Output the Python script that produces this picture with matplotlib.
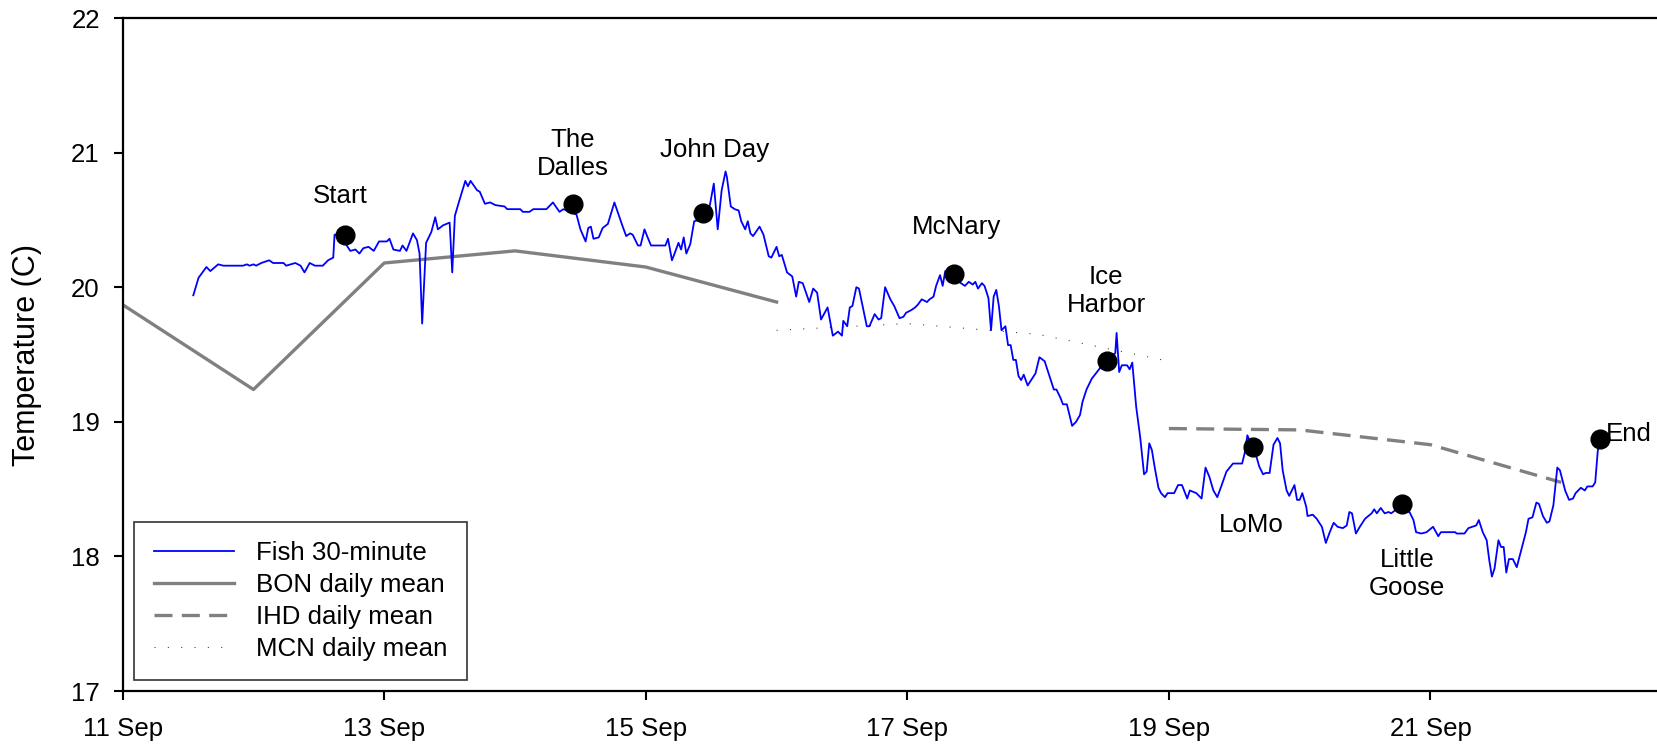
import matplotlib
matplotlib.use("Agg")
import matplotlib.pyplot as plt

plt.rcParams['font.family'] = ['Liberation Sans', 'DejaVu Sans']

# fish temperature, 30-minute record (day of September, deg C)
fish_day = [
    11.54, 11.58, 11.64, 11.67, 11.73, 11.77, 11.92, 11.95, 11.97, 12.00,
    12.02, 12.06, 12.12, 12.15, 12.23, 12.25, 12.32, 12.36, 12.39, 12.43,
    12.47, 12.53, 12.57, 12.61, 12.62, 12.66, 12.74, 12.78, 12.81, 12.84,
    12.88, 12.92, 12.96, 13.02, 13.04, 13.07, 13.12, 13.14, 13.17, 13.22,
    13.25, 13.27, 13.29, 13.32, 13.36, 13.39, 13.41, 13.45, 13.50, 13.52,
    13.54, 13.57, 13.62, 13.64, 13.66, 13.71, 13.73, 13.77, 13.81, 13.85,
    13.92, 13.94, 14.04, 14.06, 14.11, 14.14, 14.24, 14.29, 14.34, 14.37,
    14.47, 14.50, 14.54, 14.56, 14.58, 14.60, 14.64, 14.67, 14.71, 14.76,
    14.82, 14.85, 14.88, 14.90, 14.94, 14.96, 14.99, 15.01, 15.04, 15.15,
    15.17, 15.20, 15.22, 15.25, 15.27, 15.29, 15.31, 15.34, 15.37, 15.41,
    15.49, 15.52, 15.55, 15.58, 15.61, 15.62, 15.65, 15.68, 15.71, 15.73,
    15.76, 15.78, 15.80, 15.82, 15.87, 15.90, 15.94, 15.96, 16.00, 16.02,
    16.04, 16.08, 16.12, 16.15, 16.17, 16.20, 16.25, 16.28, 16.31, 16.34,
    16.39, 16.43, 16.47, 16.50, 16.51, 16.54, 16.56, 16.58, 16.61, 16.63,
    16.69, 16.71, 16.75, 16.78, 16.80, 16.83, 16.87, 16.90, 16.94, 16.97,
    16.99, 17.03, 17.06, 17.08, 17.11, 17.15, 17.17, 17.20, 17.22, 17.25,
    17.27, 17.29, 17.41, 17.44, 17.47, 17.50, 17.52, 17.54, 17.57, 17.59,
    17.62, 17.64, 17.66, 17.68, 17.70, 17.72, 17.75, 17.77, 17.79, 17.81,
    17.83, 17.85, 17.87, 17.89, 17.92, 17.98, 18.01, 18.05, 18.08, 18.12,
    18.14, 18.17, 18.19, 18.22, 18.26, 18.29, 18.32, 18.34, 18.37, 18.41,
    18.45, 18.49, 18.59, 18.60, 18.62, 18.64, 18.68, 18.70, 18.72, 18.75,
    18.78, 18.81, 18.83, 18.85, 18.87, 18.89, 18.92, 18.94, 18.97, 18.99,
    19.04, 19.07, 19.10, 19.14, 19.16, 19.21, 19.25, 19.28, 19.31, 19.34,
    19.37, 19.40, 19.44, 19.49, 19.56, 19.58, 19.60, 19.67, 19.69, 19.72,
    19.74, 19.77, 19.80, 19.83, 19.85, 19.87, 19.90, 19.92, 19.96, 19.98,
    20.00, 20.02, 20.05, 20.06, 20.10, 20.13, 20.17, 20.20, 20.23, 20.26,
    20.29, 20.33, 20.36, 20.38, 20.40, 20.43, 20.46, 20.50, 20.55, 20.57,
    20.59, 20.62, 20.65, 20.68, 20.70, 20.74, 20.84, 20.87, 20.89, 20.93,
    20.97, 21.02, 21.06, 21.08, 21.19, 21.20, 21.26, 21.29, 21.32, 21.35,
    21.37, 21.40, 21.43, 21.45, 21.47, 21.49, 21.52, 21.54, 21.56, 21.58,
    21.60, 21.63, 21.66, 21.70, 21.73, 21.75, 21.78, 21.81, 21.83, 21.86,
    21.89, 21.91, 21.94, 21.97, 21.99, 22.03, 22.06, 22.09, 22.11, 22.15,
    22.18, 22.20, 22.24, 22.26, 22.28, 22.30,
]
fish_temp = [
    19.94, 20.07, 20.15, 20.12, 20.17, 20.16, 20.16, 20.17, 20.16, 20.17,
    20.16, 20.18, 20.20, 20.18, 20.18, 20.16, 20.18, 20.16, 20.11, 20.18,
    20.16, 20.16, 20.20, 20.22, 20.39, 20.39, 20.27, 20.28, 20.25, 20.29,
    20.30, 20.27, 20.34, 20.34, 20.36, 20.28, 20.27, 20.31, 20.27, 20.40,
    20.35, 20.25, 19.73, 20.33, 20.41, 20.52, 20.43, 20.46, 20.48, 20.11,
    20.53, 20.63, 20.79, 20.75, 20.79, 20.72, 20.71, 20.62, 20.63, 20.61,
    20.60, 20.58, 20.58, 20.56, 20.56, 20.58, 20.58, 20.63, 20.56, 20.58,
    20.54, 20.43, 20.34, 20.44, 20.45, 20.36, 20.37, 20.44, 20.47, 20.63,
    20.46, 20.38, 20.40, 20.39, 20.31, 20.31, 20.43, 20.38, 20.31, 20.31,
    20.36, 20.20, 20.25, 20.33, 20.28, 20.37, 20.25, 20.32, 20.49, 20.50,
    20.61, 20.77, 20.43, 20.72, 20.86, 20.82, 20.60, 20.58, 20.57, 20.49,
    20.43, 20.49, 20.40, 20.38, 20.45, 20.39, 20.23, 20.22, 20.30, 20.23,
    20.24, 20.11, 20.08, 19.93, 20.04, 20.03, 19.89, 19.99, 19.96, 19.76,
    19.85, 19.64, 19.67, 19.64, 19.75, 19.71, 19.85, 19.86, 20.00, 19.99,
    19.71, 19.71, 19.80, 19.76, 19.77, 20.00, 19.91, 19.86, 19.77, 19.78,
    19.81, 19.83, 19.85, 19.87, 19.91, 19.89, 19.91, 19.93, 20.01, 20.09,
    20.01, 20.12, 20.03, 20.01, 20.04, 20.02, 20.04, 19.99, 20.03, 20.01,
    19.92, 19.68, 19.93, 19.98, 19.86, 19.68, 19.71, 19.57, 19.57, 19.46,
    19.46, 19.34, 19.31, 19.35, 19.27, 19.36, 19.48, 19.45, 19.36, 19.24,
    19.24, 19.18, 19.13, 19.13, 18.97, 19.00, 19.05, 19.15, 19.24, 19.32,
    19.37, 19.42, 19.51, 19.66, 19.37, 19.42, 19.42, 19.39, 19.44, 19.11,
    18.89, 18.61, 18.63, 18.84, 18.79, 18.67, 18.51, 18.47, 18.44, 18.47,
    18.47, 18.53, 18.53, 18.43, 18.49, 18.47, 18.43, 18.66, 18.59, 18.49,
    18.44, 18.52, 18.63, 18.69, 18.69, 18.77, 18.90, 18.74, 18.67, 18.61,
    18.62, 18.62, 18.83, 18.88, 18.84, 18.64, 18.49, 18.45, 18.53, 18.42,
    18.42, 18.47, 18.37, 18.30, 18.31, 18.28, 18.22, 18.10, 18.18, 18.25,
    18.22, 18.21, 18.23, 18.33, 18.32, 18.17, 18.22, 18.28, 18.32, 18.35,
    18.32, 18.36, 18.32, 18.33, 18.32, 18.35, 18.33, 18.27, 18.18, 18.17,
    18.18, 18.22, 18.15, 18.18, 18.18, 18.17, 18.17, 18.21, 18.22, 18.23,
    18.27, 18.18, 18.12, 17.97, 17.85, 17.91, 18.12, 18.07, 18.07, 17.88,
    17.98, 17.98, 17.92, 18.07, 18.18, 18.28, 18.29, 18.40, 18.39, 18.30,
    18.25, 18.26, 18.38, 18.66, 18.64, 18.49, 18.42, 18.43, 18.47, 18.51,
    18.49, 18.52, 18.52, 18.55, 18.79, 18.87,
]

# dam daily means
bon_day = [11, 12, 13, 14, 15, 16]
bon_temp = [19.87, 19.24, 20.18, 20.27, 20.15, 19.89]
ihd_day = [19, 20, 21, 22]
ihd_temp = [18.95, 18.94, 18.83, 18.55]
mcn_day = [16, 17, 18, 19]
mcn_temp = [19.68, 19.73, 19.65, 19.45]

# dam passage points
site_name = ["Start", "The\nDalles", "John Day", "McNary", "Ice\nHarbor",
             "LoMo", "Little\nGoose", "End"]
site_day = [12.70, 14.44, 15.44, 17.36, 18.53, 19.64, 20.78, 22.30]
site_temp = [20.39, 20.62, 20.55, 20.10, 19.45, 18.81, 18.39, 18.87]
# label anchor (day, temp) and alignment
label_pos = [(12.66, 20.68), (14.44, 20.99), (15.53, 21.02), (17.38, 20.45),
             (18.52, 19.97), (19.63, 18.23), (20.82, 17.87), (22.34, 18.91)]
label_ha = ["center"] * 7 + ["left"]

tick_day = [11, 13, 15, 17, 19, 21]
tick_lab = ["11 Sep", "13 Sep", "15 Sep", "17 Sep", "19 Sep", "21 Sep"]

fs = 18.6

fig = plt.figure(figsize=(16.58, 7.48), dpi=100)
ax = fig.add_axes([0.074, 0.0762, 0.926, 0.8997])

ax.plot(fish_day, fish_temp, color="#0000ff", lw=1.3, label="Fish 30-minute", zorder=3)
ax.plot(bon_day, bon_temp, color="#808080", lw=2.4, label="BON daily mean", zorder=2)
ax.plot(ihd_day, ihd_temp, color="#808080", lw=2.4, dashes=(5.4, 2.8),
        label="IHD daily mean", zorder=2)
ax.plot(mcn_day, mcn_temp, color="#444444", lw=0.8, linestyle=(0, (1, 11)),
        label="MCN daily mean", zorder=2)
ax.plot(site_day, site_temp, "o", color="black", ms=13.5, zorder=4)

for name, (lx, ly), ha in zip(site_name, label_pos, label_ha):
    ax.text(lx, ly, name, fontsize=fs, ha=ha, va="center", linespacing=1.2)

ax.set_xlim(11, 22.74)
ax.set_ylim(17, 22)
ax.set_xticks(tick_day)
ax.set_xticklabels(tick_lab)
ax.set_yticks([17, 18, 19, 20, 21, 22])
ax.tick_params(labelsize=fs, length=6.5, width=1.5, direction="out")
ax.tick_params(axis="y", pad=10)
ax.tick_params(axis="x", pad=12)
ax.spines["right"].set_visible(False)
for s in ["left", "bottom", "top"]:
    ax.spines[s].set_linewidth(1.6)

ax.set_ylabel("Temperature (C)", fontsize=22)
ax.yaxis.set_label_coords(-0.0528, 0.5)

leg = ax.legend(loc="lower left", bbox_to_anchor=(0.0076, 0.0163), borderaxespad=0,
                fontsize=fs, frameon=True, fancybox=False, handlelength=3.1,
                handletextpad=0.85, labelspacing=0.3, borderpad=0.75)
leg.get_frame().set_edgecolor("black")
leg.get_frame().set_linewidth(1.2)

fig.savefig("out.png", dpi=100)
